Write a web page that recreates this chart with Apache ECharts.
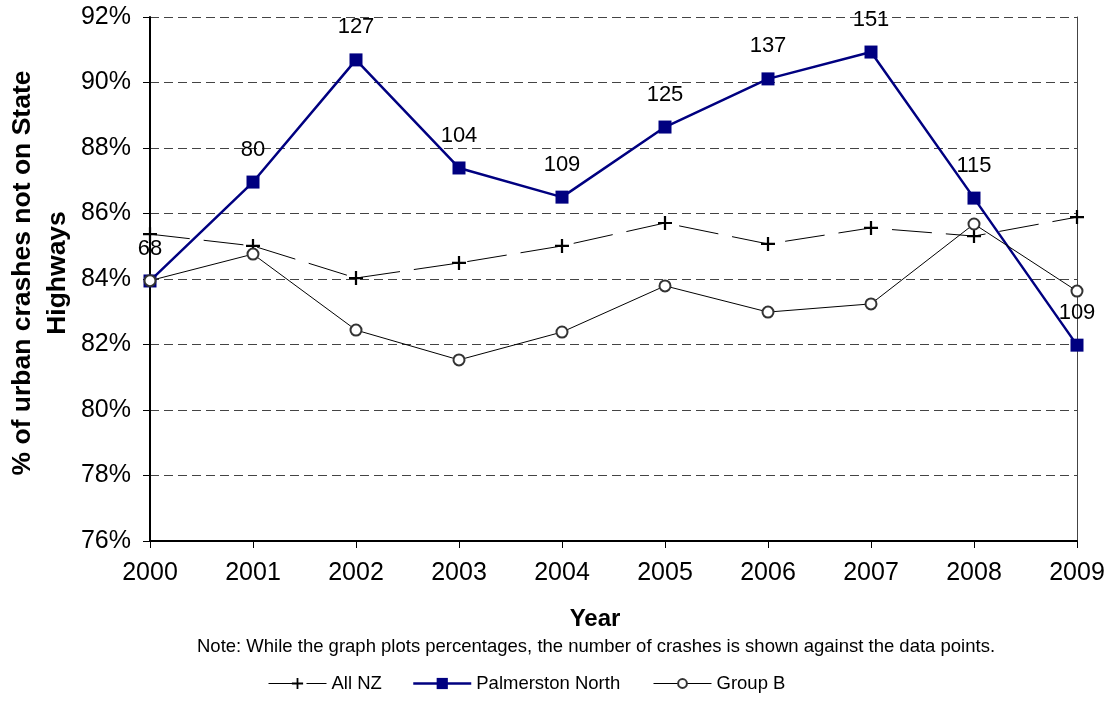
<!DOCTYPE html>
<html>
<head>
<meta charset="utf-8">
<script src="https://cdn.jsdelivr.net/npm/echarts@6/dist/echarts.min.js"></script>
<style>
html,body{margin:0;padding:0;background:#fff;}
#chart{width:1107px;height:726px;}
</style>
</head>
<body>
<div id="chart"></div>
<script>
const years = ['2000','2001','2002','2003','2004','2005','2006','2007','2008','2009'];
const allNZ = [85.37, 85.01, 84.03, 84.49, 85.01, 85.71, 85.07, 85.56, 85.31, 85.89];
const palmerstonNorth = [83.94, 86.96, 90.69, 87.39, 86.50, 88.64, 90.11, 90.93, 86.47, 81.98];
const groupB = [83.95, 84.76, 82.44, 81.53, 82.38, 83.79, 82.99, 83.24, 85.68, 83.63];
const pnCrashes = [68, 80, 127, 104, 109, 125, 137, 151, 115, 109];
const yTicks = { min: 76, max: 92, step: 2 };

const FONT = "'Liberation Sans', Arial, sans-serif";
const chart = echarts.init(document.getElementById('chart'), null, { renderer: 'canvas' });

const plusPath = 'path://M4.2,0H5.8V4.2H10V5.8H5.8V10H4.2V5.8H0V4.2H4.2Z';
const legendBase = {
  top: 674,
  padding: 0,
  itemWidth: 58,
  itemHeight: 14,
  textStyle: { fontFamily: FONT, fontSize: 18.5, color: '#000' }
};

const option = {
  backgroundColor: '#fff',
  animation: false,
  textStyle: { fontFamily: FONT, color: '#000' },
  grid: { left: 150, right: 30, top: 17, bottom: 185, containLabel: false, outerBoundsMode: 'none' },
  legend: [
    Object.assign({}, legendBase, { left: 268, data: [{ name: 'All NZ', lineStyle: { type: [26, 12], width: 1, color: '#000' } }] }),
    Object.assign({}, legendBase, { left: 412, data: [{ name: 'Palmerston North', lineStyle: { width: 2.5, color: '#000080' } }] }),
    Object.assign({}, legendBase, { left: 653, itemHeight: 11, data: [{ name: 'Group B', lineStyle: { width: 1, color: '#000' } }] })
  ],
  graphic: [{
    type: 'text',
    left: 197,
    top: 637,
    style: {
      text: 'Note: While the graph plots percentages, the number of crashes is shown against the data points.',
      fontFamily: FONT, fontSize: 18.5, fill: '#000'
    }
  }, {
    type: 'text',
    x: 40,
    y: 273,
    rotation: Math.PI / 2,
    style: {
      text: '% of urban crashes not on State\nHighways',
      fontFamily: FONT, fontSize: 26.5, fontWeight: 'bold', fill: '#000',
      lineHeight: 35,
      align: 'center', verticalAlign: 'middle',
      textAlign: 'center', textVerticalAlign: 'middle'
    }
  }],
  xAxis: {
    type: 'category',
    data: years,
    boundaryGap: false,
    name: 'Year',
    nameLocation: 'middle',
    nameGap: 66,
    nameTextStyle: { fontFamily: FONT, fontSize: 24, fontWeight: 'bold', color: '#000', padding: [0, 37, 0, 0] },
    axisLine: { lineStyle: { color: '#000', width: 2 } },
    axisTick: { show: true, length: 7, alignWithLabel: true, lineStyle: { color: '#000', width: 1 } },
    axisLabel: { fontFamily: FONT, fontSize: 25, color: '#000', margin: 20 },
    splitLine: { show: false }
  },
  yAxis: [{
    type: 'value',
    min: yTicks.min,
    max: yTicks.max,
    interval: yTicks.step,
    axisLine: { show: true, lineStyle: { color: '#000', width: 2 } },
    axisTick: { show: true, length: 7, lineStyle: { color: '#000', width: 1 } },
    axisLabel: { fontFamily: FONT, fontSize: 25, color: '#000', margin: 19, formatter: '{value}%' },
    splitLine: { show: true, lineStyle: { color: '#444', width: 1, type: [9, 5] } }
  }, {
    type: 'value',
    position: 'right',
    min: yTicks.min,
    max: yTicks.max,
    interval: yTicks.step,
    axisLine: { show: true, lineStyle: { color: '#444', width: 1 } },
    axisTick: { show: false },
    axisLabel: { show: false },
    splitLine: { show: false }
  }],
  series: [{
    name: 'All NZ',
    type: 'line',
    data: allNZ,
    symbol: plusPath,
    symbolSize: 14,
    itemStyle: { color: '#000' },
    lineStyle: { color: '#000', width: 1, type: [40, 14] },
    z: 2
  }, {
    name: 'Palmerston North',
    type: 'line',
    data: palmerstonNorth,
    symbol: 'rect',
    symbolSize: 13,
    itemStyle: { color: '#000080' },
    lineStyle: { color: '#000080', width: 2.5 },
    label: {
      show: true,
      position: 'top',
      distance: 15,
      fontFamily: FONT,
      fontSize: 22,
      color: '#000',
      formatter: p => String(pnCrashes[p.dataIndex])
    },
    z: 3
  }, {
    name: 'Group B',
    type: 'line',
    data: groupB,
    symbol: 'emptyCircle',
    symbolSize: 11,
    itemStyle: { color: '#333', borderWidth: 1.5 },
    lineStyle: { color: '#000', width: 1 },
    z: 4
  }]
};
chart.setOption(option);
</script>
</body>
</html>
